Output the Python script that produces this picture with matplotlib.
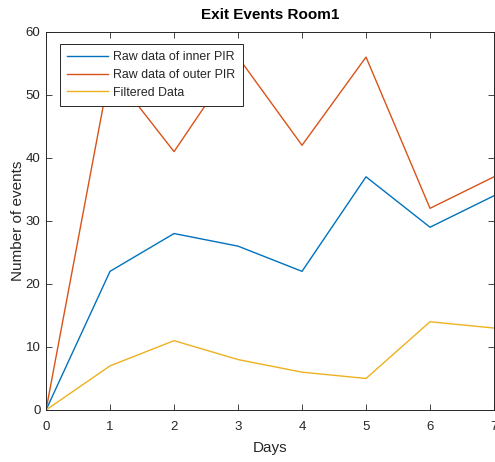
import matplotlib
matplotlib.use("Agg")
import matplotlib.pyplot as plt

days = [0, 1, 2, 3, 4, 5, 6, 7]
inner_pir = [0, 22, 28, 26, 22, 37, 29, 34]
outer_pir = [0, 54, 41, 56, 42, 56, 32, 37]
filtered = [0, 7, 11, 8, 6, 5, 14, 13]

plt.rcParams["font.family"] = ["Liberation Sans", "DejaVu Sans"]
txt = "#262626"

fig = plt.figure(figsize=(4.95, 4.62), dpi=100)
ax = fig.add_axes([0.093, 0.1126, 0.905, 0.8184])
ax.plot(days, inner_pir, color="#0072BD", lw=1, label="Raw data of inner PIR")
ax.plot(days, outer_pir, color="#D95319", lw=1, label="Raw data of outer PIR")
ax.plot(days, filtered, color="#EDB120", lw=1, label="Filtered Data")

ax.set_xlim(0, 7); ax.set_ylim(0, 60)
ax.set_xticks(range(0, 8)); ax.set_yticks(range(0, 61, 10))
ax.tick_params(direction="in", top=True, right=True, length=4, width=0.6,
               labelsize=9.5, colors=txt)
ax.tick_params(axis="x", pad=8)
ax.tick_params(axis="y", pad=4)
for s in ax.spines.values():
    s.set_linewidth(0.7); s.set_color(txt)

ax.set_xlabel("Days", fontsize=11, color=txt, labelpad=6)
ax.set_ylabel("Number of events", fontsize=11, color=txt, labelpad=0.5)
ax.set_title("Exit Events Room1", fontsize=11, fontweight="bold", color="black", pad=9)

leg = ax.legend(loc="upper left", bbox_to_anchor=(0.031, 0.968), fontsize=8.9,
                frameon=True, fancybox=False, edgecolor=txt, framealpha=1,
                borderpad=0.6, handlelength=3.3, handletextpad=0.4,
                labelspacing=0.45, borderaxespad=0)
leg.get_frame().set_linewidth(0.7)
for t in leg.get_texts():
    t.set_color(txt)

fig.savefig("out.png", dpi=100)
